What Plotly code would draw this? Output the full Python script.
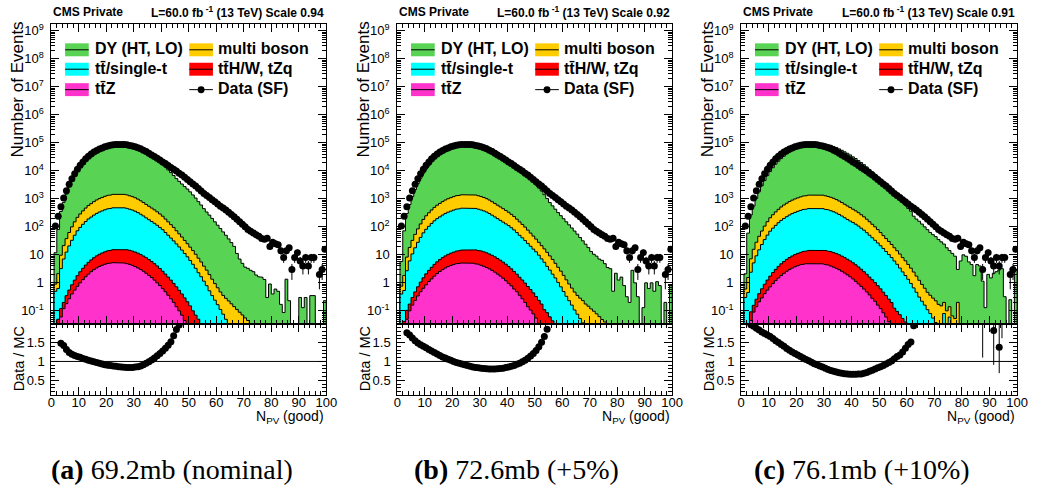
import numpy as np
import plotly.graph_objects as go

W, H = 1039, 499

# N_PV (good) bins: 0..100, width 1
npv_edges = list(range(101))

# Data (SF) counts per bin (identical in all three panels)
data_sf = [0, 107, 240, 525, 1070, 1950, 3300, 5250, 7900, 11500,
           15800, 20900, 26900, 33100, 39800, 46800, 53700, 60300, 66100, 72400,
           77600, 82200, 85100, 87100, 88100, 88100, 87100, 85100, 81300, 77600,
           72400, 67600, 61700, 55000, 49000, 42700, 37200, 32400, 28200, 24500,
           20900, 18200, 15500, 13200, 11500, 9800, 8300, 7100, 5900, 4900,
           4070, 3390, 2880, 2340, 1900, 1550, 1320, 1120, 930, 795,
           660, 550, 468, 398, 331, 275, 229, 186, 151, 123,
           100, 81, 69, 60, 52, 46, 38, 36, 39, 20,
           28, 25, 23, 14, 8, 14, 18, 3, 8, 12,
           6, 4, 8, 4, 8, 8, 0, 2, 3, 16]

# ---------------- (a) 69.2 mb ----------------
dy_a = [0, 11, 78, 345, 729, 1440, 2600, 4310, 6660, 9960,
        13940, 18980, 24910, 31560, 38720, 46480, 54450, 62450, 69960, 77900,
        84900, 90980, 95250, 98620, 100920, 102120, 101650, 99920, 95510, 91200,
        84100, 77620, 69250, 59700, 50950, 42590, 35290, 29310, 24170, 19960,
        16090, 13290, 10690, 8560, 6750, 5230, 4160, 3350, 2720, 2220,
        1760, 1370, 1060, 787, 598, 443, 336, 261, 199, 150,
        114, 86.5, 65.6, 49.7, 36.8, 27.3, 19.9, 11.1, 7.0, 4.9,
        3.6, 3.25, 2.77, 2.5, 1.9, 1.66, 1.58, 1.32, 0.30, 0.91,
        0.40, 0.60, 0.50, 0.17, 0.087, 1.35, 0.23, 0, 0, 0,
        0.30, 0.13, 0.30, 0, 0.35, 0.35, 0, 0, 0, 0.23]
multiboson_a = [0, 0.4, 1.5, 6.5, 14.3, 25.5, 42, 67, 101, 146,
                193, 248, 313, 386, 452, 531, 610, 685, 751, 822,
                883, 923, 968, 990, 990, 990, 968, 923, 862, 804,
                733, 654, 570, 495, 422, 364, 313, 270, 230, 193,
                160, 127, 101, 80, 64, 48, 37, 28.5, 21.5, 16.5,
                12.5, 9.6, 7.2, 5.3, 3.9, 2.8, 2.05, 1.45, 1.0, 0.7,
                0.5, 0.36, 0.28, 0.23, 0.19, 0.178, 0.141, 0.112, 0.089, 0.071,
                0.056, 0.045, 0.035, 0, 0, 0, 0, 0, 0, 0,
                0, 0, 0, 0, 0, 0, 0, 0, 0, 0,
                0, 0, 0, 0, 0, 0, 0, 0, 0, 0]
ttbar_a = [0, 0.5, 0.58, 3.1, 6.9, 12.2, 20.3, 32.2, 48.9, 70.6,
           93, 120, 151, 186, 217, 255, 293, 328, 360, 394,
           423, 442, 464, 474, 474, 474, 463, 442, 412, 384,
           350, 312, 272, 236, 201, 173, 150, 129, 110, 92,
           76.8, 61, 48.5, 38.5, 30.6, 23.8, 18.6, 14.4, 10.9, 8.3,
           6.15, 4.5, 3.23, 2.25, 1.62, 1.15, 0.79, 0.52, 0.35, 0.24,
           0.166, 0.112, 0.076, 0.05, 0.035, 0, 0, 0, 0, 0,
           0, 0, 0, 0, 0, 0, 0, 0, 0, 0,
           0, 0, 0, 0, 0, 0, 0, 0, 0, 0,
           0, 0, 0, 0, 0, 0, 0, 0, 0, 0]
ttx_a = [0, 0, 0.03, 0.06, 0.08, 0.17, 0.28, 0.45, 0.7, 1.05,
         1.5, 2.0, 2.65, 3.35, 4.1, 4.95, 5.8, 6.65, 7.45, 8.2,
         8.9, 9.5, 10.05, 10.5, 10.7, 10.75, 10.6, 10.35, 9.95, 9.4,
         8.8, 8.1, 7.3, 6.5, 5.7, 4.95, 4.25, 3.6, 3.0, 2.45,
         1.98, 1.57, 1.24, 0.98, 0.75, 0.58, 0.44, 0.33, 0.245, 0.18,
         0.13, 0.10, 0.07, 0.05, 0.035, 0, 0, 0, 0, 0,
         0, 0, 0, 0, 0, 0, 0, 0, 0, 0,
         0, 0, 0, 0, 0, 0, 0, 0, 0, 0,
         0, 0, 0, 0, 0, 0, 0, 0, 0, 0,
         0, 0, 0, 0, 0, 0, 0, 0, 0, 0]
ttz_a = [0, 0, 0.02, 0.06, 0.12, 0.18, 0.27, 0.40, 0.55, 0.75,
         1.0, 1.3, 1.65, 2.05, 2.5, 2.95, 3.4, 3.85, 4.25, 4.6,
         4.9, 5.1, 5.25, 5.3, 5.3, 5.25, 5.1, 4.85, 4.55, 4.2,
         3.8, 3.4, 3.0, 2.6, 2.2, 1.85, 1.55, 1.25, 1.0, 0.8,
         0.62, 0.48, 0.36, 0.27, 0.2, 0.14, 0.10, 0.07, 0.045, 0.03,
         0.02, 0, 0, 0, 0, 0, 0, 0, 0, 0,
         0, 0, 0, 0, 0, 0, 0, 0, 0, 0,
         0, 0, 0, 0, 0, 0, 0, 0, 0, 0,
         0, 0, 0, 0, 0, 0, 0, 0, 0, 0,
         0, 0, 0, 0, 0, 0, 0, 0, 0, 0]

# ---------------- (b) 72.6 mb ----------------
dy_b = [0, 5, 70, 290, 611, 1170, 2075, 3440, 5360, 8030,
        11370, 15520, 20620, 26200, 32570, 39660, 47150, 54410, 61350, 69190,
        76400, 83460, 88240, 92250, 95380, 97550, 98670, 98110, 95410, 92170,
        87040, 82280, 75550, 67740, 60330, 52560, 45490, 39370, 33840, 28860,
        24180, 20570, 17120, 14110, 11920, 9750, 7940, 6480, 5105, 4000,
        3115, 2410, 1884, 1392, 1014, 731, 555, 422, 320, 248,
        193, 150, 117, 90.5, 70.3, 54.6, 41.4, 31.4, 23.8, 18.0,
        13.1, 10.4, 8.9, 7.0, 6.3, 4.8, 3.5, 3.2, 0.5, 2.2,
        1.26, 1.6, 0.8, 0.32, 0.2, 2.8, 1.0, 0.32, 0, 0.13,
        1.0, 0.63, 1.0, 0.5, 1.1, 0.8, 0, 0.2, 0, 0.8]
multiboson_b = [0, 0.36, 1.3, 5.6, 12.3, 22, 36, 56.5, 85, 123,
                166, 213, 267, 331, 396, 460, 534, 607, 676, 737,
                802, 860, 897, 939, 961, 965, 965, 951, 916, 864,
                809, 749, 680, 605, 529, 460, 397, 344, 298, 258,
                221, 187, 156, 126, 101, 81.5, 65.7, 50.7, 39.4, 30.8,
                23.7, 18.2, 14.1, 10.9, 8.4, 6.3, 4.8, 3.5, 2.55, 1.9,
                1.36, 0.95, 0.68, 0.49, 0.36, 0.28, 0.23, 0.195, 0.175, 0.146,
                0.117, 0.097, 0.078, 0.062, 0.049, 0.04, 0.033, 0, 0, 0,
                0, 0, 0, 0, 0, 0, 0, 0, 0, 0,
                0, 0, 0, 0, 0, 0, 0, 0, 0, 0]
ttbar_b = [0, 0.4, 0.49, 2.6, 5.9, 10.5, 17.4, 27.3, 41, 59.5,
           80, 102, 129, 160, 191, 221, 256, 292, 324, 353,
           385, 411, 430, 450, 460, 462, 462, 454, 439, 413,
           387, 358, 326, 290, 252, 218, 189, 164, 142, 123,
           107, 90, 75, 60.5, 48.4, 39.2, 31.4, 24.9, 19.7, 15.6,
           12.5, 9.5, 7.0, 5.3, 3.8, 2.8, 2.0, 1.46, 1.04, 0.72,
           0.49, 0.33, 0.23, 0.16, 0.107, 0.076, 0.053, 0.037, 0, 0,
           0, 0, 0, 0, 0, 0, 0, 0, 0, 0,
           0, 0, 0, 0, 0, 0, 0, 0, 0, 0,
           0, 0, 0, 0, 0, 0, 0, 0, 0, 0]
ttx_b = [0, 0, 0.027, 0.054, 0.074, 0.14, 0.24, 0.38, 0.585, 0.87,
         1.24, 1.68, 2.2, 2.83, 3.49, 4.21, 5.0, 5.79, 6.58, 7.31,
         8.0, 8.67, 9.22, 9.73, 10.16, 10.39, 10.47, 10.38, 10.18, 9.85,
         9.41, 8.87, 8.27, 7.59, 6.83, 6.09, 5.36, 4.68, 4.04, 3.44,
         2.89, 2.38, 1.94, 1.56, 1.23, 0.99, 0.78, 0.6, 0.47, 0.36,
         0.27, 0.2, 0.15, 0.11, 0.086, 0.061, 0.044, 0.031, 0, 0,
         0, 0, 0, 0, 0, 0, 0, 0, 0, 0,
         0, 0, 0, 0, 0, 0, 0, 0, 0, 0,
         0, 0, 0, 0, 0, 0, 0, 0, 0, 0,
         0, 0, 0, 0, 0, 0, 0, 0, 0, 0]
ttz_b = [0, 0, 0.015, 0.05, 0.1, 0.16, 0.235, 0.34, 0.48, 0.64,
         0.85, 1.11, 1.38, 1.74, 2.14, 2.55, 2.96, 3.39, 3.8, 4.17,
         4.49, 4.78, 4.96, 5.1, 5.16, 5.17, 5.13, 5.02, 4.82, 4.55,
         4.25, 3.9, 3.53, 3.16, 2.79, 2.41, 2.05, 1.74, 1.46, 1.19,
         0.96, 0.78, 0.6, 0.48, 0.36, 0.27, 0.2, 0.14, 0.107, 0.078,
         0.055, 0.036, 0.024, 0, 0, 0, 0, 0, 0, 0,
         0, 0, 0, 0, 0, 0, 0, 0, 0, 0,
         0, 0, 0, 0, 0, 0, 0, 0, 0, 0,
         0, 0, 0, 0, 0, 0, 0, 0, 0, 0,
         0, 0, 0, 0, 0, 0, 0, 0, 0, 0]

# ---------------- (c) 76.1 mb ----------------
dy_c = [0, 1.5, 58, 259, 538, 1009, 1757, 2878, 4434, 6612,
        9307, 12710, 17010, 21650, 26940, 32830, 39380, 45590, 51980, 58840,
        65240, 71570, 76820, 81650, 85010, 88500, 91250, 92110, 90990, 89930,
        87000, 84360, 80050, 73280, 67110, 60160, 53570, 47360, 41850, 36630,
        31240, 27200, 22990, 19430, 16440, 13620, 11060, 9100, 7275, 5824,
        4671, 3760, 3059, 2382, 1858, 1431, 1154, 946, 736, 583,
        450, 359, 238, 188, 157, 125, 99.4, 79, 62.7, 52.2,
        44.5, 35, 29, 24, 17.8, 14.1, 11.2, 8.9, 2.8, 6.0,
        10, 8.9, 5.6, 4.5, 1.8, 4.5, 4.0, 1.15, 0.13, 2.0,
        1.5, 2.2, 2.5, 2.9, 3.2, 0.32, 0, 0.25, 0, 2.8]
multiboson_c = [0, 0.3, 1.1, 4.8, 10.6, 18.9, 30.9, 47.5, 71, 102,
                141, 181, 228, 281, 342, 404, 467, 535, 602, 665,
                723, 785, 836, 871, 910, 934, 941, 941, 932, 906,
                864, 811, 760, 700, 632, 559, 493, 429, 373, 326,
                284, 248, 214, 181, 152, 125, 102, 82.7, 67, 53.2,
                41.3, 31.8, 25.1, 19.8, 15.5, 11.9, 9.4, 7.3, 5.5, 4.3,
                3.2, 2.4, 1.77, 1.28, 0.92, 0.66, 0.48, 0.35, 0.28, 0.23,
                0.19, 0.17, 0.15, 0.12, 0.1, 0.08, 0.066, 0.053, 0.2, 0.035,
                0, 0, 0, 0, 0, 0, 0, 0, 0, 0,
                0, 0, 0, 0, 0, 0, 0, 0, 0, 0]
ttbar_c = [0, 0.3, 0.43, 2.3, 5.0, 9.0, 14.7, 22.8, 34.2, 49.4,
           68.2, 87.4, 110, 137, 166, 194, 224, 257, 289, 318,
           347, 375, 401, 417, 436, 447, 450, 450, 446, 433,
           413, 388, 363, 334, 301, 267, 235, 204, 177, 155,
           138, 120, 103, 86.5, 73.6, 59.9, 48.7, 39.5, 32.1, 25.8,
           20.5, 16.4, 12.8, 10, 7.8, 5.9, 4.5, 3.3, 2.4, 1.78,
           1.31, 0.95, 0.66, 0.46, 0.31, 0.22, 0.16, 0.11, 0.08, 0.055,
           0.038, 0, 0, 0.08, 0, 0.06, 0, 0, 0, 0,
           0, 0, 0, 0, 0, 0, 0, 0, 0, 0,
           0, 0, 0, 0, 0, 0, 0, 0, 0, 0]
ttx_c = [0, 0, 0.02, 0.047, 0.067, 0.12, 0.2, 0.32, 0.48, 0.71,
         1.02, 1.4, 1.83, 2.38, 2.96, 3.6, 4.3, 5.04, 5.77, 6.49,
         7.17, 7.83, 8.43, 8.95, 9.42, 9.84, 10.09, 10.18, 10.16, 9.99,
         9.75, 9.38, 8.9, 8.39, 7.79, 7.11, 6.42, 5.73, 5.06, 4.43,
         3.84, 3.29, 2.77, 2.31, 1.9, 1.55, 1.24, 1.01, 0.8, 0.63,
         0.49, 0.38, 0.29, 0.22, 0.17, 0.124, 0.095, 0.073, 0.053, 0.04,
         0.028, 0, 0, 0, 0, 0, 0, 0, 0, 0,
         0, 0, 0, 0, 0, 0, 0, 0, 0, 0,
         0, 0, 0, 0, 0, 0, 0, 0, 0, 0,
         0, 0, 0, 0, 0, 0, 0, 0, 0, 0]
ttz_c = [0, 0, 0, 0.045, 0.09, 0.14, 0.21, 0.29, 0.41, 0.55,
         0.72, 0.94, 1.2, 1.49, 1.82, 2.19, 2.59, 2.97, 3.37, 3.75,
         4.08, 4.39, 4.64, 4.82, 4.96, 5.02, 5.04, 5.01, 4.93, 4.77,
         4.54, 4.28, 3.97, 3.63, 3.29, 2.94, 2.59, 2.24, 1.93, 1.64,
         1.38, 1.13, 0.92, 0.75, 0.6, 0.475, 0.37, 0.28, 0.22, 0.16,
         0.12, 0.085, 0.06, 0.041, 0.028, 0, 0, 0, 0, 0,
         0, 0, 0, 0, 0, 0, 0, 0, 0, 0,
         0, 0, 0, 0, 0, 0, 0, 0, 0, 0,
         0, 0, 0, 0, 0, 0, 0, 0, 0, 0,
         0, 0, 0, 0, 0, 0, 0, 0, 0, 0]

scale_factors = ["0.94", "0.92", "0.91"]
captions = ["<b>(a)</b> 69.2mb (nominal)", "<b>(b)</b> 72.6mb (+5%)", "<b>(c)</b> 76.1mb (+10%)"]
legend_labels = ["DY (HT, LO)", "multi boson", "tt\u0304/single-t",
                 "tt\u0304H/W, tZq", "tt\u0304Z", "Data (SF)"]

# ---------------- styling ----------------
COL_DY = "#59d354"
COL_VV = "#ffcc00"
COL_TT = "#00ffff"
COL_TTX = "#ff0000"
COL_TTZ = "#ff33cc"
FONT = "Liberation Sans, Arial, Helvetica, sans-serif"
SERIF = "Liberation Serif, Times New Roman, serif"

panel_left = [48, 399, 748]
panel_right = [327, 678, 1028]
caption_x = [170, 520, 871]
MAIN_TOP, MAIN_BOT, RATIO_BOT = 22, 323, 395
FLOOR = 1e-3

panels = [
    dict(dy=dy_a, vv=multiboson_a, tt=ttbar_a, ttx=ttx_a, ttz=ttz_a),
    dict(dy=dy_b, vv=multiboson_b, tt=ttbar_b, ttx=ttx_b, ttz=ttz_b),
    dict(dy=dy_c, vv=multiboson_c, tt=ttbar_c, ttx=ttx_c, ttz=ttz_c),
]


def fx(px):
    return px / W


def fy(py):
    return 1 - py / H


def note(text, x, y, size, xanchor="center", family=FONT, angle=0):
    return dict(text=text, x=fx(x), y=fy(y), xref="paper", yref="paper",
                xanchor=xanchor, yanchor="middle", showarrow=False, textangle=angle,
                font=dict(family=family, size=size, color="black"))


def step_outline(values):
    """Closed step contour of a histogram, for a filled outline."""
    xs, ys = [npv_edges[0]], [FLOOR]
    for i, v in enumerate(values):
        v = max(float(v), FLOOR)
        xs += [npv_edges[i], npv_edges[i + 1]]
        ys += [v, v]
    xs.append(npv_edges[-1])
    ys.append(FLOOR)
    return xs, ys


fig = go.Figure()
layout = dict(width=W, height=H, margin=dict(l=0, r=0, t=0, b=0),
              paper_bgcolor="white", plot_bgcolor="white", showlegend=False,
              font=dict(family=FONT, color="black"))
annotations, shapes = [], []

centers = np.array(npv_edges[:-1]) + 0.5
data = np.array(data_sf, dtype=float)

x_major = list(range(0, 101, 10))
x_minor = [v for v in range(0, 101, 2) if v % 10]
y_major = [10.0 ** k for k in range(-1, 10)]
y_text = ["10<sup>-1</sup>", "1", "10"] + [f"10<sup>{k}</sup>" for k in range(2, 10)]
y_minor = [m * 10.0 ** k for k in range(-2, 9) for m in range(2, 10)]
r_minor = [round(0.1 * k, 1) for k in range(1, 21) if k % 5]

axis_common = dict(showline=True, linecolor="black", linewidth=1, mirror="ticks",
                   ticks="inside", tickcolor="black", tickwidth=1, ticklen=8,
                   showgrid=False, zeroline=False,
                   tickfont=dict(family=FONT, size=13, color="black"))

for k, p in enumerate(panels):
    L, R = panel_left[k], panel_right[k]
    im, ir = 2 * k + 1, 2 * k + 2
    xm, ym = f"x{im}", f"y{im}"
    xr, yr = f"x{ir}", f"y{ir}"

    comps = [np.array(p[key], dtype=float) for key in ("ttz", "ttx", "tt", "vv", "dy")]
    cols = [COL_TTZ, COL_TTX, COL_TT, COL_VV, COL_DY]
    cum = np.cumsum(comps, axis=0)
    total = cum[-1]

    # stacked histograms: draw the largest cumulative first
    for level in range(4, -1, -1):
        xs, ys = step_outline(cum[level])
        fig.add_trace(go.Scatter(x=xs, y=ys, mode="lines", fill="toself",
                                 fillcolor=cols[level],
                                 line=dict(color="black", width=1),
                                 xaxis=xm, yaxis=ym, hoverinfo="skip"))

    # data points
    has = data > 0
    err = np.sqrt(data)
    fig.add_trace(go.Scatter(
        x=centers[has], y=data[has], mode="markers",
        marker=dict(color="black", size=7),
        error_y=dict(type="data", symmetric=False, array=err[has],
                     arrayminus=np.minimum(err[has], data[has] * 0.999),
                     color="black", thickness=1, width=0),
        xaxis=xm, yaxis=ym))

    # ratio panel
    ok = has & (total > 0)
    ratio = data[ok] / total[ok]
    rerr = err[ok] / total[ok]
    fig.add_trace(go.Scatter(
        x=centers[ok], y=ratio, mode="markers",
        marker=dict(color="black", size=7),
        error_y=dict(type="data", array=rerr, color="black", thickness=1, width=0),
        xaxis=xr, yaxis=yr))
    shapes.append(dict(type="line", xref=xr, yref=yr, x0=0, x1=100, y0=1, y1=1,
                       line=dict(color="black", width=1)))

    dom_x = [fx(L), fx(R)]
    layout[f"xaxis{im}"] = dict(axis_common, domain=dom_x, range=[0, 100], anchor=ym,
                                tickvals=x_major, showticklabels=False,
                                minor=dict(ticks="inside", ticklen=4, tickcolor="black",
                                           tickmode="array", tickvals=x_minor))
    layout[f"yaxis{im}"] = dict(axis_common, domain=[fy(MAIN_BOT), fy(MAIN_TOP)],
                                type="log", range=[-1.46, 9.25], anchor=xm,
                                tickvals=y_major, ticktext=y_text, ticklabelstandoff=4,
                                minor=dict(ticks="inside", ticklen=4, tickcolor="black",
                                           tickmode="array", tickvals=y_minor))
    layout[f"xaxis{ir}"] = dict(axis_common, domain=dom_x, range=[0, 100], anchor=yr,
                                tickvals=x_major, ticklabelstandoff=-5,
                                minor=dict(ticks="inside", ticklen=4, tickcolor="black",
                                           tickmode="array", tickvals=x_minor))
    layout[f"yaxis{ir}"] = dict(axis_common, domain=[fy(RATIO_BOT), fy(MAIN_BOT)],
                                range=[0.1, 2.0], anchor=xr, ticklabelstandoff=3,
                                tickvals=[0.5, 1, 1.5], ticktext=["0.5", "1", "1.5"],
                                minor=dict(ticks="inside", ticklen=4, tickcolor="black",
                                           tickmode="array", tickvals=r_minor))

    # header texts
    annotations.append(note("<b>CMS Private</b>", L, 10, 12, xanchor="left"))
    annotations.append(note(f"<b>L=60.0 fb<sup> -1</sup> (13 TeV) Scale {scale_factors[k]}</b>",
                            R, 10, 12, xanchor="right"))
    # axis titles
    annotations.append(note("Number of Events", L - 34, 88, 17, angle=-90))
    annotations.append(note("Data / MC", L - 33, 358, 14.5, angle=-90))
    annotations.append(note("N<sub>PV</sub> (good)", R, 417, 14, xanchor="right"))
    # caption
    annotations.append(note(captions[k], caption_x[k], 469, 28, family=SERIF))

    # legend
    rows = [48, 67.5, 88]
    entries = [(0, 0, COL_DY), (1, 0, COL_VV), (0, 1, COL_TT), (1, 1, COL_TTX), (0, 2, COL_TTZ)]
    for col, row, colr in entries:
        bx0 = L + (14 if col == 0 else 140)
        bx1 = bx0 + 24
        yc = rows[row]
        shapes.append(dict(type="rect", xref="paper", yref="paper",
                           x0=fx(bx0), x1=fx(bx1), y0=fy(yc + 6.5), y1=fy(yc - 6.5),
                           fillcolor=colr, line=dict(width=0)))
        shapes.append(dict(type="line", xref="paper", yref="paper",
                           x0=fx(bx0), x1=fx(bx1), y0=fy(yc), y1=fy(yc),
                           line=dict(color="black", width=1)))
    label_pos = [(0, 0), (1, 0), (0, 1), (1, 1), (0, 2), (1, 2)]
    for lab, (col, row) in zip(legend_labels, label_pos):
        tx = L + (42 if col == 0 else 167)
        annotations.append(note(f"<b>{lab}</b>", tx, rows[row] - 1, 16, xanchor="left"))
    # data legend marker
    dx0, dx1, dyc = L + 140, L + 164, rows[2]
    shapes.append(dict(type="line", xref="paper", yref="paper", x0=fx(dx0), x1=fx(dx1),
                       y0=fy(dyc), y1=fy(dyc), line=dict(color="black", width=1)))
    shapes.append(dict(type="circle", xref="paper", yref="paper",
                       x0=fx(dx0 + 8.5), x1=fx(dx0 + 15.5), y0=fy(dyc + 3.5), y1=fy(dyc - 3.5),
                       fillcolor="black", line=dict(width=0)))

layout["annotations"] = annotations
layout["shapes"] = shapes
fig.update_layout(**layout)
fig.write_html("out.html", config={"displayModeBar": False})
